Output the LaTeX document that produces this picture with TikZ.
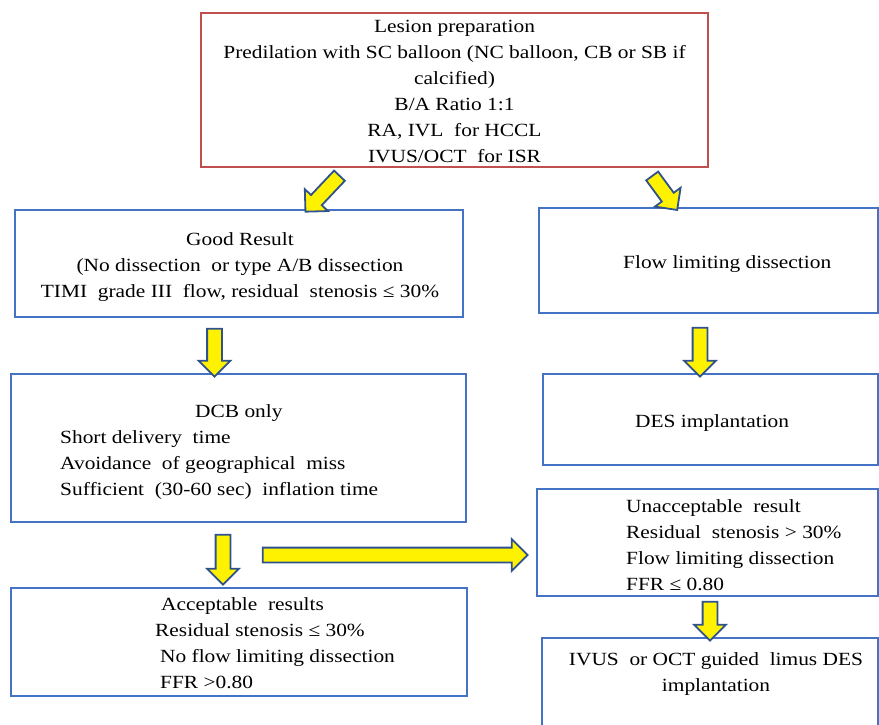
\documentclass[tikz,border=0pt]{standalone}
\usepackage{fontspec}
\setmainfont{Liberation Serif}[FakeStretch=1.15]
\usetikzlibrary{shapes.arrows, calc}

\definecolor{boxblue}{RGB}{68,114,196}
\definecolor{edgeblue}{RGB}{47,82,143}
\definecolor{boxred}{RGB}{192,80,77}

\tikzset{
  box/.style={draw=boxblue, line width=2pt, rectangle, inner sep=0pt},
  redbox/.style={box, draw=boxred},
  txt/.style={inner sep=0pt, font=\fontsize{18.6}{26}\selectfont},
  fat/.style={single arrow, draw=edgeblue, fill=yellow, line width=1.8pt,
    text height=6.5pt, text depth=6.5pt, single arrow head extend=8.5pt,
    single arrow head indent=0pt, inner sep=0pt}
}

% block arrow from one point to another
\newcommand{\fatarrow}[3]{%
  \path let \p1=($(#3)-(#2)$), \n1={veclen(\x1,\y1)}, \n2={atan2(\y1,\x1)} in
    node[fat, minimum height=\n1, rotate=\n2] (#1) at ($(#2)!0.5!(#3)$) {};}

\begin{document}
\begin{tikzpicture}[x=1pt, y=-1pt]
    \useasboundingbox (0,0) rectangle (879,725);

    % Boxes
    \node[redbox, minimum width=507pt, minimum height=154pt] (prep) at (454.5,90) {};
    \node[box, minimum width=448pt, minimum height=107pt] (good) at (239,263.5) {};
    \node[box, minimum width=339pt, minimum height=105pt] (flow) at (708.5,260.5) {};
    \node[box, minimum width=455pt, minimum height=148pt] (dcb) at (238.5,448) {};
    \node[box, minimum width=335pt, minimum height=91pt] (des) at (710.5,419.5) {};
    \node[box, minimum width=341pt, minimum height=107pt] (unacc) at (707.5,542.5) {};
    \node[box, minimum width=456pt, minimum height=108pt] (acc) at (239,642) {};
    \node[box, minimum width=336pt, minimum height=107pt] (ivus) at (710,691.5) {};

    % Texts
    \node[txt, anchor=base] (preptxt) at (454.5,33) {\begin{tabular}[t]{@{}c@{}}
      Lesion preparation\\
      Predilation with SC balloon (NC balloon, CB or SB if\\
      calcified)\\
      B/A Ratio 1:1\\
      RA, IVL~ for HCCL\\
      IVUS/OCT~ for ISR\end{tabular}};
    \node[txt, anchor=base] (goodtxt) at (240,245) {\begin{tabular}[t]{@{}c@{}}
      Good Result\\
      (No dissection~ or type A/B dissection\\
      TIMI~ grade III~ flow, residual~ stenosis ≤ 30\%\end{tabular}};
    \node[txt, anchor=base west] (flowtxt) at (623,268) {Flow limiting dissection};
    \node[txt, anchor=base west] (dcbtxt) at (60,417) {\begin{tabular}[t]{@{}l@{}}
      \hspace*{135pt}DCB only\\
      Short delivery~ time\\
      Avoidance~ of geographical~ miss\\
      Sufficient~ (30-60 sec)~ inflation time\end{tabular}};
    \node[txt, anchor=base west] (destxt) at (635,427) {DES implantation};
    \node[txt, anchor=base west] (unacctxt) at (626,512) {\begin{tabular}[t]{@{}l@{}}
      Unacceptable~ result\\
      Residual~ stenosis > 30\%\\
      Flow limiting dissection\\
      FFR ≤ 0.80\end{tabular}};
    \node[txt, anchor=base west] (acctxt) at (155,610) {\begin{tabular}[t]{@{}l@{}}
      \hspace*{6pt}Acceptable~ results\\
      Residual stenosis ≤ 30\%\\
      \hspace*{5pt}No flow limiting dissection\\
      \hspace*{5pt}FFR >0.80\end{tabular}};
    \node[txt, anchor=base] (ivustxt) at (716,665) {\begin{tabular}[t]{@{}c@{}}
      IVUS~ or OCT guided~ limus DES\\
      implantation\end{tabular}};

    % Arrows
    \coordinate (t1) at ($(prep.south)+(-112.5,5)$);
    \coordinate (h1) at ($(good.north)+(69,0)$);
    \coordinate (t2) at ($(prep.south)+(195.5,5)$);
    \coordinate (h2) at ($(flow.north)+(-33.5,0)$);
    \coordinate (t3) at ($(good.south)+(-24.5,7)$);
    \coordinate (h3) at (t3 |- dcb.north);
    \coordinate (t4) at ($(flow.south)+(-8.5,10)$);
    \coordinate (h4) at (t4 |- des.north);
    \coordinate (t5) at ($(dcb.south)+(-15.5,8)$);
    \coordinate (h5) at ($(t5 |- acc.north)+(0,-6)$);
    \coordinate (h6) at ($(unacc.west)+(-12,12.5)$);
    \coordinate (t6) at ($(h6 -| t5)+(36,0)$);
    \coordinate (t7) at ($(unacc.south)+(2.5,1)$);
    \coordinate (h7) at (t7 |- ivus.north);

    \fatarrow{a1}{t1}{h1}
    \fatarrow{a2}{t2}{h2}
    \fatarrow{a3}{t3}{h3}
    \fatarrow{a4}{t4}{h4}
    \fatarrow{a5}{t5}{h5}
    \fatarrow{a6}{t6}{h6}
    \fatarrow{a7}{t7}{h7}
\end{tikzpicture}
\end{document}
